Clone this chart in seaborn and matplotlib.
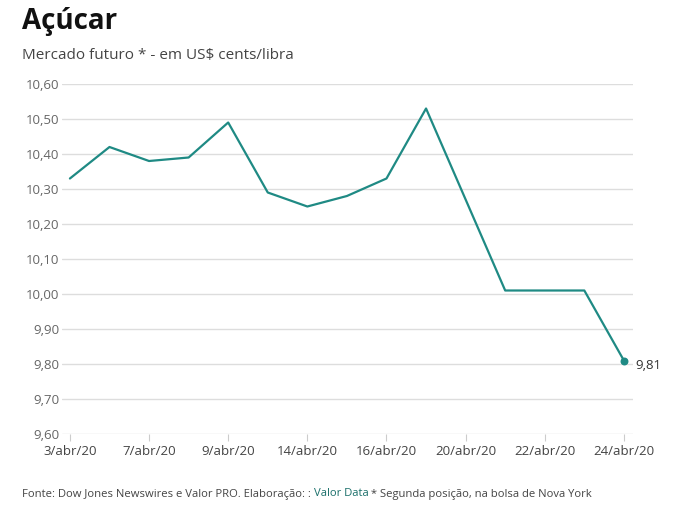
import matplotlib
matplotlib.use("Agg")
import matplotlib.pyplot as plt
import seaborn as sns
import pandas as pd

dates = ["3/abr/20", "6/abr/20", "7/abr/20", "8/abr/20", "9/abr/20", "13/abr/20",
         "14/abr/20", "15/abr/20", "16/abr/20", "17/abr/20", "20/abr/20", "21/abr/20",
         "22/abr/20", "23/abr/20", "24/abr/20"]
values = [10.33, 10.42, 10.38, 10.39, 10.49, 10.29, 10.25, 10.28, 10.33, 10.53,
          10.27, 10.01, 10.01, 10.01, 9.81]
yticks = [9.6, 9.7, 9.8, 9.9, 10.0, 10.1, 10.2, 10.3, 10.4, 10.5, 10.6]

sns.set_style("white")
plt.rcParams['font.family'] = ['Open Sans', 'DejaVu Sans']

df = pd.DataFrame({"idx": range(len(dates)), "val": values})
color = "#1f8a84"

fig = plt.figure(figsize=(6.76, 5.14), dpi=100)
ax = fig.add_axes([62/676, 1-434/514, (633-62)/676, (434-84)/514])

for y in yticks:
    ax.axhline(y, color="#dddddd", lw=1, zorder=0)

sns.lineplot(data=df, x="idx", y="val", ax=ax, color=color, lw=1.6)
ax.scatter([df["idx"].iloc[-1]], [values[-1]], color=color, s=22, zorder=5)
ax.annotate(f"{values[-1]:.2f}".replace(".", ","), (df["idx"].iloc[-1], values[-1]),
            xytext=(8, -6), textcoords="offset points", fontsize=9.5, color="#333333")

ax.set_xlim(-0.2, 14.23)
ax.set_ylim(9.6, 10.6)
ax.set_yticks(yticks)
ax.set_yticklabels([f"{y:.2f}".replace(".", ",") for y in yticks])
tick_idx = list(range(0, len(dates), 2))
ax.set_xticks(tick_idx)
ax.set_xticklabels([dates[i] for i in tick_idx])
ax.tick_params(axis="x", length=5, color="#cccccc", labelsize=9.5, labelcolor="#444444", pad=3, bottom=True)
ax.tick_params(axis="y", length=0, labelsize=9.5, labelcolor="#666666", pad=2)
for s in ax.spines.values():
    s.set_visible(False)
ax.set_xlabel("")
ax.set_ylabel("")

fig.text(22/676, 1-21/514, "Açúcar", fontsize=20, fontweight="bold", color="#111111", va="center")
fig.text(22/676, 1-55/514, "Mercado futuro * - em US$ cents/libra", fontsize=11, color="#444444", va="center")

fs = 8.15
yf = 1-494/514
t1 = fig.text(22/676, yf, "Fonte: Dow Jones Newswires e Valor PRO. Elaboração: : ", fontsize=fs, color="#444444", va="center")
fig.canvas.draw()
r = fig.canvas.get_renderer()
bb = t1.get_window_extent(r)
t2 = fig.text(bb.x1/676, yf, "Valor Data", fontsize=fs, color="#1a6f6a", va="center")
bb2 = t2.get_window_extent(r)
fig.text(bb2.x1/676, yf, " * Segunda posição, na bolsa de Nova York", fontsize=fs, color="#444444", va="center")

fig.savefig("out.png", dpi=100)
